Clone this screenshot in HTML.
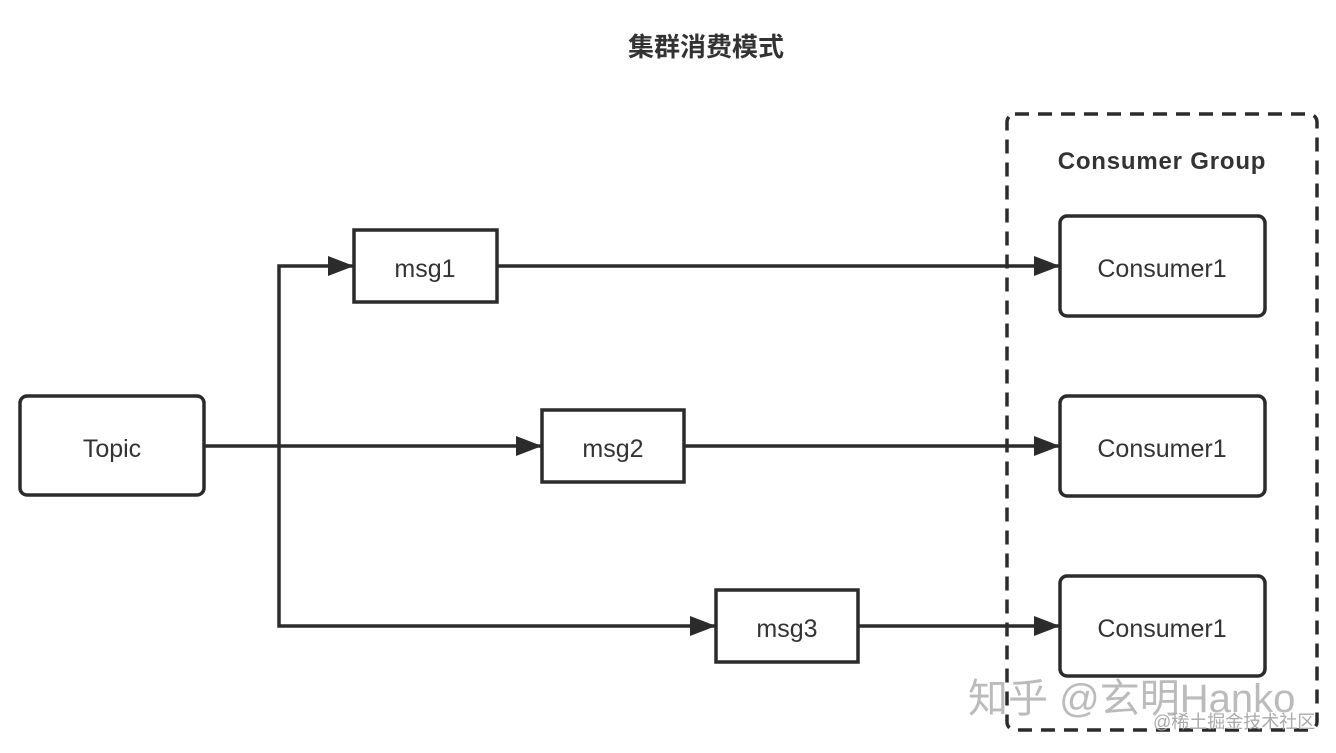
<!DOCTYPE html>
<html><head><meta charset="utf-8"><style>
html,body{margin:0;padding:0;background:#fff;}
svg{display:block;}
text{font-family:"Liberation Sans","Noto Sans CJK SC",sans-serif;fill:#333;}
</style></head><body>
<svg width="1336" height="753" viewBox="0 0 1336 753" xmlns="http://www.w3.org/2000/svg">
<defs>
<marker id="b" markerWidth="26" markerHeight="20" refX="26" refY="10" orient="auto" markerUnits="userSpaceOnUse"><path d="M0,0 L26,10 L0,20 z" fill="#2b2b2b"/></marker></defs>
<text x="706" y="56" font-size="26" font-weight="bold" text-anchor="middle">集群消费模式</text>
<rect x="1007" y="114" width="310" height="616" rx="8" fill="none" stroke="#2b2b2b" stroke-width="3.5" stroke-dasharray="14 9"/>
<text x="1162" y="169" font-size="24" font-weight="bold" text-anchor="middle" letter-spacing="0.8">Consumer Group</text>
<g fill="none" stroke="#2b2b2b" stroke-width="3.5">
<rect x="20" y="396" width="184" height="99" rx="7"/>
<rect x="354" y="230" width="143" height="72"/>
<rect x="542" y="410" width="142" height="72"/>
<rect x="716" y="590" width="142" height="72"/>
<rect x="1060" y="216" width="205" height="100" rx="7"/>
<rect x="1060" y="396" width="205" height="100" rx="7"/>
<rect x="1060" y="576" width="205" height="100" rx="7"/>
<path d="M204,446 H542" marker-end="url(#b)"/>
<path d="M279,446 V266 H354" marker-end="url(#b)"/>
<path d="M279,446 V626 H716" marker-end="url(#b)"/>
<path d="M497,266 H1060" marker-end="url(#b)"/>
<path d="M684,446 H1060" marker-end="url(#b)"/>
<path d="M858,626 H1060" marker-end="url(#b)"/>
</g>
<g font-size="25" text-anchor="middle">
<text x="112" y="457">Topic</text>
<text x="425" y="277">msg1</text>
<text x="613" y="457">msg2</text>
<text x="787" y="637">msg3</text>
<text x="1162" y="277">Consumer1</text>
<text x="1162" y="457">Consumer1</text>
<text x="1162" y="637">Consumer1</text>
</g>
<text x="968" y="712" font-size="40" style="fill:#bbb">知乎 @玄明Hanko</text>
<text x="1153" y="728" font-size="18" style="fill:#aaa">@稀土掘金技术社区</text>
</svg>
</body></html>
